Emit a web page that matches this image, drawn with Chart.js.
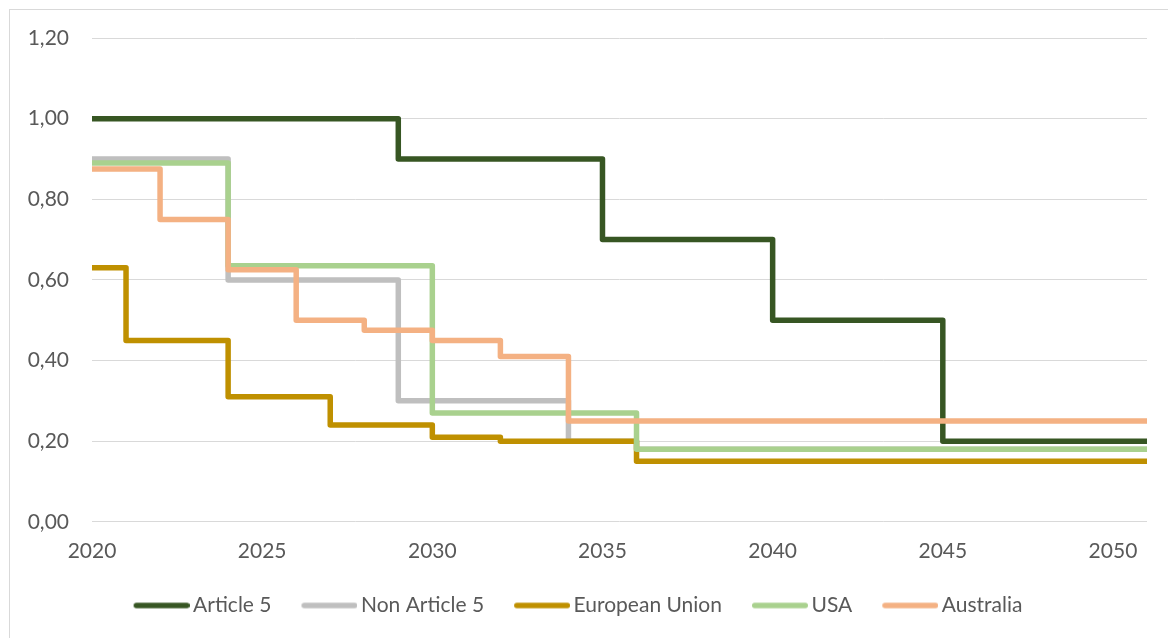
<!DOCTYPE html>
<html>
<head>
<meta charset="utf-8">
<script src="https://cdn.jsdelivr.net/npm/chart.js@4"></script>
<style>
  body { margin: 0; background: #fff; overflow: hidden; }
  #frame { position: absolute; left: 9px; top: 9px; width: 1170px; height: 640px; border: 1px solid #d9d9d9; }
  #wrap { position: absolute; left: 10px; top: 10px; width: 1158px; height: 616px; }
</style>
</head>
<body>
<div id="frame"></div>
<div id="wrap"><canvas id="chart"></canvas></div>
<script>
// anni di inizio di ogni gradino e valore tenuto fino al gradino successivo
const article5Years = [2020, 2029, 2035, 2040, 2045, 2051];
const article5Values = [1.00, 0.90, 0.70, 0.50, 0.20, 0.20];
const nonArticle5Years = [2020, 2024, 2029, 2034, 2036, 2051];
const nonArticle5Values = [0.90, 0.60, 0.30, 0.20, 0.18, 0.18];
const euYears = [2020, 2021, 2024, 2027, 2030, 2032, 2036, 2051];
const euValues = [0.63, 0.45, 0.31, 0.24, 0.21, 0.20, 0.15, 0.15];
const usaYears = [2020, 2024, 2030, 2036, 2051];
const usaValues = [0.89, 0.635, 0.27, 0.18, 0.18];
const australiaYears = [2020, 2022, 2024, 2026, 2028, 2030, 2032, 2034, 2051];
const australiaValues = [0.875, 0.75, 0.625, 0.50, 0.475, 0.45, 0.41, 0.25, 0.25];

const seriesNames = ['Article 5', 'Non Article 5', 'European Union', 'USA', 'Australia'];
const seriesColors = ['#375623', '#BFBFBF', '#BF9000', '#A9D18E', '#F4B183'];

function punti(years, values) {
  return years.map((y, i) => ({ x: y, y: values[i] }));
}

// segmento della legenda, più vicino al testo come in Excel
function lineaLegenda(color) {
  const c = document.createElement('canvas');
  c.width = 62;
  c.height = 8;
  const g = c.getContext('2d');
  g.strokeStyle = color;
  g.lineWidth = 5.5;
  g.lineCap = 'round';
  g.beginPath();
  g.moveTo(6 + 2.75, 4);
  g.lineTo(62 - 2.75, 4);
  g.stroke();
  return c;
}

const allYears = [article5Years, nonArticle5Years, euYears, usaYears, australiaYears];
const allValues = [article5Values, nonArticle5Values, euValues, usaValues, australiaValues];

let datasets = seriesNames.map((name, i) => ({
  label: name,
  data: punti(allYears[i], allValues[i]),
  borderColor: seriesColors[i],
  backgroundColor: seriesColors[i],
  borderWidth: 5.5,
  stepped: true,
  pointRadius: 0,
  pointStyle: lineaLegenda(seriesColors[i]),
  borderJoinStyle: 'round',
  borderCapStyle: 'round',
  order: seriesNames.length - i // Australia sopra a tutti
}));

let ctx = document.getElementById('chart').getContext('2d');
let font = { family: 'Lato', size: 21 };

new Chart(ctx, {
  type: 'line',
  data: { datasets: datasets },
  options: {
    responsive: true,
    maintainAspectRatio: false,
    animation: false,
    layout: { padding: { top: 28, right: 21, left: 0, bottom: 0 } },
    plugins: {
      tooltip: { enabled: false },
      legend: {
        position: 'bottom',
        labels: {
          usePointStyle: true,
          pointStyleWidth: 48,
          font: font,
          color: '#595959',
          padding: 31,
          sort: (a, b) => a.datasetIndex - b.datasetIndex
        }
      }
    },
    scales: {
      x: {
        type: 'linear',
        min: 2020,
        max: 2051,
        grid: { display: false, drawTicks: true, tickLength: 17 },
        border: { display: false },
        ticks: {
          stepSize: 5,
          includeBounds: false,
          padding: 0,
          font: font,
          color: '#595959',
          maxRotation: 0,
          callback: v => String(v)
        }
      },
      y: {
        min: 0,
        max: 1.2,
        afterFit: scale => {
          scale.width = 82;
          scale.paddingTop = 0;
          scale.paddingBottom = 0;
        },
        grid: { color: '#d9d9d9', lineWidth: 1, drawTicks: false },
        border: { display: false },
        ticks: {
          stepSize: 0.2,
          padding: 23,
          font: font,
          color: '#595959',
          callback: v => v.toFixed(2).replace('.', ',')
        }
      }
    }
  }
});
</script>
</body>
</html>
